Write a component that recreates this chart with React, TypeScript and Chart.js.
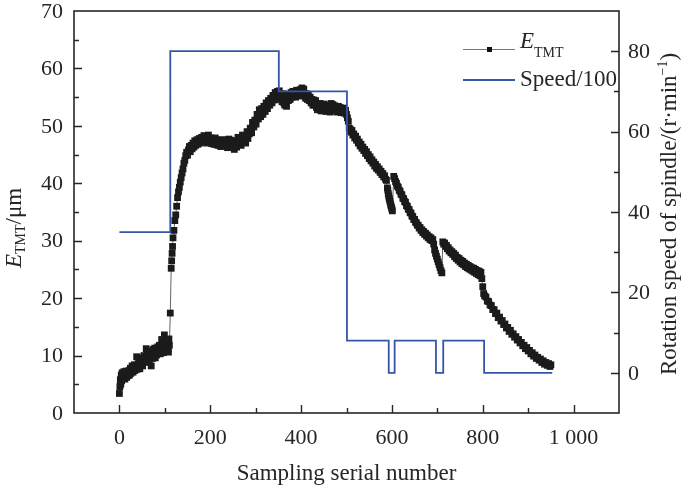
import React, { useEffect, useRef } from 'react';
import { Chart, registerables } from 'chart.js';

Chart.register(...registerables);

// E_TMT series: sample numbers
const tmtX = [
  // start (0-110)
  0, 1, 2, 3, 4, 5, 6, 7, 9, 10, 12, 13, 15, 16, 18, 19, 21, 22, 24, 25, 27, 28, 30, 31, 33, 34, 36, 38, 39, 41, 42, 44,
  45, 47, 48, 50, 51, 53, 54, 56, 57, 59, 60, 62, 63, 65, 66, 68, 69, 70, 72, 73, 75, 76, 78, 79, 81, 82, 84, 85, 87,
  88, 90, 91, 93, 94, 96, 97, 99, 100, 102, 103, 105, 106, 107, 108, 109, 110,
  // jump (112-138)
  112, 114, 115, 116, 117, 118, 120, 122, 124, 126, 128, 130, 132, 134, 136, 138,
  // plateau (140-348)
  140, 142, 144, 146, 148, 150, 152, 154, 156, 158, 160, 162, 164, 166, 168, 171, 173, 176, 178, 181, 183, 186, 188,
  191, 193, 196, 198, 201, 203, 206, 208, 211, 213, 216, 218, 221, 223, 226, 228, 231, 233, 236, 238, 241, 243, 246,
  248, 251, 253, 256, 258, 261, 263, 266, 268, 271, 273, 276, 278, 281, 283, 286, 288, 291, 293, 296, 298, 301, 303,
  306, 308, 311, 313, 316, 318, 321, 323, 326, 328, 331, 333, 336, 338, 341, 343, 346, 348,
  // top (350-500)
  350, 352, 354, 356, 358, 360, 362, 364, 366, 368, 370, 372, 374, 376, 378, 380, 382, 384, 386, 388, 390, 392, 394,
  396, 398, 400, 402, 404, 406, 408, 410, 412, 414, 416, 418, 420, 422, 424, 426, 428, 430, 432, 434, 436, 438, 440,
  442, 444, 446, 448, 450, 452, 454, 456, 458, 460, 462, 464, 466, 468, 470, 472, 474, 476, 478, 480, 482, 484, 486,
  488, 490, 492, 494, 496, 498, 500,
  // decline (502-588)
  502, 504, 506, 508, 510, 512, 514, 516, 518, 520, 522, 524, 526, 528, 530, 532, 534, 536, 538, 540, 542, 544, 546,
  548, 550, 552, 554, 556, 558, 560, 562, 564, 566, 568, 570, 572, 574, 576, 578, 580, 582, 584, 586, 588,
  // first drop (590-601)
  590, 591, 592, 593, 594, 595, 596, 597, 598, 599, 600, 601,
  // (604-690)
  604, 606, 608, 610, 612, 614, 616, 618, 620, 622, 624, 626, 628, 630, 632, 634, 636, 638, 640, 642, 644, 646, 648,
  650, 652, 654, 656, 658, 660, 662, 664, 666, 668, 670, 672, 674, 676, 678, 680, 682, 684, 686, 688, 690,
  // second drop (692-710)
  692, 694, 696, 698, 700, 702, 704, 706, 708, 710,
  // (712-796)
  712, 714, 716, 718, 720, 722, 724, 726, 728, 730, 732, 734, 736, 738, 740, 742, 744, 746, 748, 750, 752, 754, 756,
  758, 760, 762, 764, 766, 768, 770, 772, 774, 776, 778, 780, 782, 784, 786, 788, 790, 792, 794, 796,
  // (798-802)
  798, 800, 802,
  // tail (804-950)
  804, 807, 810, 813, 816, 819, 822, 825, 828, 831, 834, 837, 840, 843, 846, 849, 852, 855, 858, 861, 864, 867, 870,
  873, 876, 879, 882, 885, 888, 891, 894, 897, 900, 903, 906, 909, 912, 915, 918, 921, 924, 927, 930, 933, 936, 939,
  942, 945, 948, 950,
];

// E_TMT series: values (µm)
const tmtY = [
  // start
  3.4, 4.6, 5.8, 5.0, 6.6, 5.6, 7.0, 6.0, 6.5, 7.2, 5.9, 6.8, 7.3, 6.2, 7.0, 6.5, 7.4, 6.6, 7.8, 6.9, 7.5, 8.2, 7.1,
  7.8, 8.4, 7.4, 8.1, 9.8, 7.6, 8.6, 7.9, 8.9, 7.7, 9.2, 8.3, 9.6, 8.2, 9.1, 10.0, 8.8, 9.7, 11.2, 9.0, 10.3, 9.4,
  10.8, 9.1, 10.4, 9.8, 8.2, 10.6, 9.5, 11.1, 10.0, 11.3, 9.6, 10.8, 10.1, 11.5, 10.4, 11.0, 11.8, 10.3, 11.2, 12.8,
  10.8, 11.6, 10.5, 13.6, 11.0, 12.1, 10.7, 11.8, 12.7, 11.2, 10.6, 12.9, 11.8,
  // jump
  17.4, 25.2, 26.5, 27.8, 29.0, 30.5, 31.8, 33.5, 34.5, 36.0, 37.5, 38.5, 39.3, 40.2, 41.0, 41.8,
  // plateau
  42.5, 43.5, 44.0, 44.8, 45.4, 44.9, 45.8, 46.4, 45.5, 46.6, 46.0, 47.0, 46.3, 47.4, 46.6, 47.6, 46.8, 47.8, 47.0,
  48.0, 47.2, 48.3, 47.4, 48.1, 47.0, 48.4, 47.3, 47.9, 46.9, 47.7, 46.8, 47.9, 46.7, 47.6, 46.6, 47.5, 46.4, 47.4,
  46.5, 47.6, 46.7, 47.2, 46.2, 47.7, 46.8, 47.5, 46.4, 47.3, 45.9, 47.0, 46.3, 48.0, 46.8, 47.4, 46.6, 48.4, 47.2,
  48.0, 47.0, 49.0, 47.8, 48.6, 49.6, 48.8, 50.6, 49.8, 51.0, 50.3, 52.0, 51.2, 52.8, 51.6, 53.0, 52.0, 53.4, 52.5,
  54.0, 53.0, 54.4, 53.6, 54.8, 54.0, 55.3, 54.5, 55.8, 55.0, 56.0,
  // top
  55.2, 56.1, 54.6, 55.4, 54.2, 55.6, 54.0, 53.6, 54.8, 53.4, 55.2, 54.4, 55.5, 54.6, 55.8, 55.0, 56.0, 55.2, 55.9,
  55.0, 56.2, 55.4, 56.0, 55.2, 56.3, 55.6, 56.6, 55.9, 56.4, 55.2, 54.8, 55.6, 54.6, 55.4, 54.4, 55.0, 54.0, 54.6,
  53.6, 54.5, 53.6, 54.4, 53.2, 52.8, 53.8, 52.9, 53.9, 52.6, 53.4, 52.8, 53.8, 52.6, 53.6, 52.5, 53.4, 52.7, 53.6,
  52.4, 53.9, 52.8, 53.7, 52.9, 53.5, 52.6, 53.2, 52.4, 53.4, 52.6, 53.2, 52.3, 53.0, 52.4, 53.1, 52.2, 52.7, 52.0,
  // decline
  51.4, 50.8, 49.6, 49.4, 48.9, 49.2, 48.4, 48.6, 47.9, 48.2, 47.5, 47.7, 47.0, 47.2, 46.5, 46.8, 46.1, 46.3, 45.7,
  45.9, 45.2, 45.5, 44.8, 45.0, 44.3, 44.6, 43.9, 44.1, 43.5, 43.7, 43.0, 43.3, 42.6, 42.9, 42.3, 42.5, 41.9, 42.1,
  41.5, 41.7, 41.1, 41.3, 40.7, 40.5,
  // first drop
  39.2, 38.8, 38.2, 37.8, 37.4, 37.1, 36.8, 36.4, 36.1, 35.8, 35.5, 35.2,
  // (604-690)
  41.2, 40.8, 40.3, 40.0, 39.5, 39.3, 38.8, 38.6, 38.1, 38.0, 37.4, 37.3, 36.8, 36.7, 36.1, 36.0, 35.5, 35.4, 34.9,
  34.8, 34.3, 34.2, 33.7, 33.7, 33.2, 33.1, 32.7, 32.7, 32.2, 32.3, 31.8, 31.9, 31.4, 31.6, 31.1, 31.3, 30.8, 31.0,
  30.5, 30.7, 30.2, 30.5, 30.0, 30.2,
  // second drop
  29.4, 28.4, 27.8, 27.3, 26.8, 26.3, 25.8, 25.3, 24.8, 24.4,
  // (712-796)
  29.8, 29.4, 29.6, 29.0, 29.2, 28.6, 28.8, 28.2, 28.4, 27.9, 28.1, 27.6, 27.8, 27.2, 27.5, 26.9, 27.1, 26.6, 26.9,
  26.3, 26.6, 26.0, 26.4, 25.8, 26.1, 25.5, 25.9, 25.3, 25.7, 25.1, 25.5, 24.9, 25.3, 24.7, 25.2, 24.5, 25.0, 24.3,
  24.8, 24.1, 24.7, 23.9, 24.5,
  // (798-802)
  23.4, 22.0, 20.8,
  // tail
  20.4, 20.2, 19.5, 19.4, 18.8, 18.7, 18.0, 18.0, 17.3, 17.4, 16.6, 16.7, 16.0, 16.1, 15.4, 15.5, 14.8, 14.9, 14.2,
  14.4, 13.7, 13.8, 13.2, 13.3, 12.7, 12.8, 12.2, 12.3, 11.7, 11.8, 11.2, 11.4, 10.8, 10.9, 10.3, 10.5, 9.9, 10.1, 9.5,
  9.7, 9.2, 9.4, 8.8, 9.1, 8.5, 8.8, 8.3, 8.6, 8.1, 8.4,
];

// Speed/100 series (change points, right axis)
const speedX = [0, 112, 351, 501, 593, 606, 697, 713, 803, 953];
const speedY = [35, 80, 70, 8, 0, 8, 0, 8, 0, 0];

// Tick labels
const xTickValues = [0, 200, 400, 600, 800, 1000];
const xTickLabels = ['0', '200', '400', '600', '800', '1 000'];
const yTickValues = [0, 10, 20, 30, 40, 50, 60, 70];
const y1TickValues = [0, 20, 40, 60, 80];

const FONT = '"Liberation Serif", "Times New Roman", serif';
const INK = '#262626';
const BLUE = '#3556a8';

function drawSubText(ctx: CanvasRenderingContext2D, x: number, y: number, parts: { t: string; f: string; dy: number }[]) {
  let cx = x;
  for (const p of parts) {
    ctx.font = p.f;
    ctx.fillText(p.t, cx, y + p.dy);
    cx += ctx.measureText(p.t).width;
  }
  return cx;
}

const decorPlugin = {
  id: 'decor',
  afterDraw(chart: any) {
    const { ctx, chartArea: a, scales } = chart;
    const sx = scales.x;
    const sy = scales.y;
    const sy1 = scales.y1;
    ctx.save();
    // frame
    ctx.strokeStyle = INK;
    ctx.lineWidth = 1.6;
    ctx.strokeRect(a.left, a.top, a.right - a.left, a.bottom - a.top);
    // ticks (inward)
    ctx.beginPath();
    ctx.lineWidth = 1.4;
    for (let v = 0; v <= 1000; v += 100) {
      const px = Math.round(sx.getPixelForValue(v)) + 0.5;
      const len = v % 200 === 0 ? 8 : 5;
      ctx.moveTo(px, a.bottom);
      ctx.lineTo(px, a.bottom - len);
    }
    for (let v = 5; v < 70; v += 5) {
      const py = Math.round(sy.getPixelForValue(v)) + 0.5;
      const len = v % 10 === 0 ? 8 : 5;
      ctx.moveTo(a.left, py);
      ctx.lineTo(a.left + len, py);
    }
    for (let v = 0; v < 90; v += 10) {
      const py = Math.round(sy1.getPixelForValue(v)) + 0.5;
      const len = v % 20 === 0 ? 8 : 5;
      ctx.moveTo(a.right, py);
      ctx.lineTo(a.right - len, py);
    }
    ctx.stroke();

    // tick labels
    ctx.fillStyle = INK;
    ctx.font = `22px ${FONT}`;
    ctx.textAlign = 'center';
    ctx.textBaseline = 'alphabetic';
    xTickValues.forEach((v, i) => {
      ctx.fillText(xTickLabels[i], sx.getPixelForValue(v), a.bottom + 31);
    });
    ctx.textAlign = 'right';
    ctx.textBaseline = 'middle';
    yTickValues.forEach((v) => {
      ctx.fillText(String(v), a.left - 11, sy.getPixelForValue(v) + 1);
    });
    ctx.textAlign = 'left';
    y1TickValues.forEach((v) => {
      ctx.fillText(String(v), a.right + 9, sy1.getPixelForValue(v) + 1);
    });

    // x title
    ctx.textAlign = 'center';
    ctx.textBaseline = 'alphabetic';
    ctx.font = `23px ${FONT}`;
    ctx.fillText('Sampling serial number', (a.left + a.right) / 2, 480);

    // left title (rotated)
    ctx.save();
    ctx.translate(21, 268);
    ctx.rotate(-Math.PI / 2);
    ctx.textAlign = 'left';
    drawSubText(ctx, 0, 0, [
      { t: 'E', f: `italic 23px ${FONT}`, dy: 0 },
      { t: 'TMT', f: `14px ${FONT}`, dy: 4 },
      { t: '/μm', f: `23px ${FONT}`, dy: 0 },
    ]);
    ctx.restore();

    // right title (rotated)
    ctx.save();
    ctx.translate(676, 375);
    ctx.rotate(-Math.PI / 2);
    ctx.textAlign = 'left';
    drawSubText(ctx, 0, 0, [
      { t: 'Rotation speed of spindle/(r·min', f: `23px ${FONT}`, dy: 0 },
      { t: '−1', f: `14px ${FONT}`, dy: -9 },
      { t: ')', f: `23px ${FONT}`, dy: 0 },
    ]);
    ctx.restore();

    // legend
    ctx.lineWidth = 1.2;
    ctx.strokeStyle = '#777';
    ctx.beginPath();
    ctx.moveTo(463, 49.5);
    ctx.lineTo(515, 49.5);
    ctx.stroke();
    ctx.fillStyle = '#111';
    ctx.fillRect(487, 47, 5, 5);
    ctx.strokeStyle = BLUE;
    ctx.lineWidth = 1.8;
    ctx.beginPath();
    ctx.moveTo(463, 80);
    ctx.lineTo(515, 80);
    ctx.stroke();
    ctx.fillStyle = INK;
    ctx.textAlign = 'left';
    drawSubText(ctx, 520, 48, [
      { t: 'E', f: `italic 23px ${FONT}`, dy: 0 },
      { t: 'TMT', f: `14px ${FONT}`, dy: 9 },
    ]);
    ctx.font = `23px ${FONT}`;
    ctx.fillText('Speed/100', 520, 86);
    ctx.restore();
  },
};

export default function App() {
  const ref = useRef<HTMLCanvasElement | null>(null);
  useEffect(() => {
    if (!ref.current) return;
    const chart = new Chart(ref.current, {
      type: 'line',
      data: {
        datasets: [
          {
            label: 'Speed/100',
            data: speedX.map((x, i) => ({ x, y: speedY[i] })),
            yAxisID: 'y1',
            borderColor: BLUE,
            borderWidth: 1.8,
            stepped: 'before',
            pointRadius: 0,
            fill: false,
          },
          {
            label: 'E_TMT',
            data: tmtX.map((x, i) => ({ x, y: tmtY[i] })),
            yAxisID: 'y',
            borderColor: '#666',
            borderWidth: 1,
            pointStyle: 'rect',
            pointRadius: 4.8,
            pointBackgroundColor: '#1b1b1b',
            pointBorderColor: '#1b1b1b',
            pointBorderWidth: 0,
            tension: 0,
            fill: false,
          },
        ],
      },
      options: {
        responsive: false,
        animation: false,
        devicePixelRatio: 1,
        layout: { padding: { left: 74, right: 66, top: 11, bottom: 78 } },
        plugins: { legend: { display: false }, tooltip: { enabled: false } },
        scales: {
          x: { type: 'linear', min: -100, max: 1100, display: false },
          y: { type: 'linear', min: 0, max: 70, display: false },
          y1: { type: 'linear', min: -10, max: 90, display: false, position: 'right' },
        },
      },
      plugins: [decorPlugin],
    });
    return () => chart.destroy();
  }, []);
  return (
    <div style={{ position: 'fixed', left: 0, top: 0, width: 685, height: 491, background: '#fff' }}>
      <canvas ref={ref} width={685} height={491} style={{ width: 685, height: 491 }} />
    </div>
  );
}
